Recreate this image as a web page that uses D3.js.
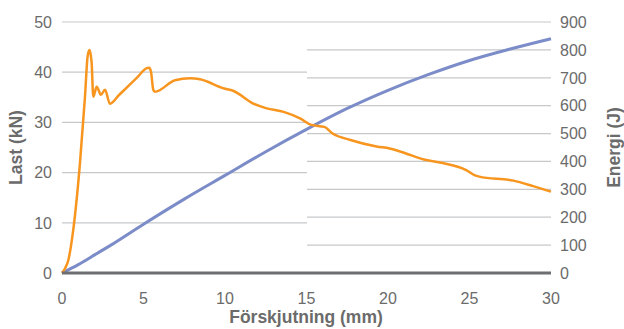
<!DOCTYPE html>
<html>
<head>
<meta charset="utf-8">
<script src="https://cdn.jsdelivr.net/npm/d3@7"></script>
<style>
  body { margin: 0; background: #fff; }
  text { font-family: "Liberation Sans", Arial, sans-serif; }
</style>
</head>
<body>
<svg id="chart" width="624" height="329"></svg>
<script>
// Last (kN) mot förskjutning (mm)
var lastX = [0, 0.2, 0.39, 0.69, 1.1, 1.41, 1.57, 1.68, 1.76, 1.82, 1.92, 2.13, 2.39, 2.64, 2.94,
  3.5, 4.0, 4.6, 5.2, 5.35, 5.46, 5.6, 5.7, 6.93, 7.85, 8.47, 9.9, 10.5, 11.7, 12.56, 13.6, 14.6, 15.3,
  16.1, 16.6, 17.7, 19.3, 20.1, 21.1, 22.2, 23.2, 24.8, 25.3, 25.6, 27.7, 28.9, 30];
var lastY = [0, 1.0, 2.6, 8.6, 21.8, 35.1, 43.1, 44.4, 43.5, 41.8, 35.1, 37.1, 35.5, 36.5, 33.7,
  35.46, 37.03, 38.9, 40.8, 40.9, 40.1, 36.5, 36.1, 38.4, 38.8, 38.6, 36.8, 36.3, 33.8, 32.8, 32.1, 30.8, 29.5,
  29.1, 27.8, 26.5, 25.2, 24.8, 23.8, 22.6, 22.0, 20.5, 19.5, 19.2, 18.4, 17.3, 16.2];

// Energi (J)
var energiX = [0, 1, 2, 3, 5, 7.5, 10, 12.5, 15, 17.5, 20, 22.5, 25, 27.5, 30];
var energiY = [0, 30, 65, 100, 175, 265, 350, 435, 515, 590, 655, 712, 762, 803, 840];

var xTicks = [0, 5, 10, 15, 20, 25, 30];
var lastTicks = [0, 10, 20, 30, 40, 50];
var energiTicks = [0, 100, 200, 300, 400, 500, 600, 700, 800, 900];

var plotLeft = 62, plotRight = 551, plotTop = 22, plotBottom = 273;
var plotMid = 307;

var svg = d3.select("#chart");

var x = d3.scaleLinear().domain([0, 30]).range([plotLeft, plotRight]);
var yL = d3.scaleLinear().domain([0, 50]).range([plotBottom, plotTop]);
var yR = d3.scaleLinear().domain([0, 900]).range([plotBottom, plotTop]);

var gridColor = "#c6c8ca";
var textColor = "#6b6b6b";

// rutnät vänster halva (Last)
svg.append("g").selectAll("line")
  .data(lastTicks.filter(function (d) { return d > 0; }))
  .enter().append("line")
  .attr("x1", plotLeft)
  .attr("x2", function (d) { return d === 50 ? plotRight : plotMid; })
  .attr("y1", function (d) { return yL(d); })
  .attr("y2", function (d) { return yL(d); })
  .attr("stroke", gridColor)
  .attr("stroke-width", 1.2);

// rutnät höger halva (Energi)
svg.append("g").selectAll("line")
  .data(energiTicks.filter(function (d) { return d > 0 && d < 900; }))
  .enter().append("line")
  .attr("x1", plotMid)
  .attr("x2", plotRight)
  .attr("y1", function (d) { return yR(d); })
  .attr("y2", function (d) { return yR(d); })
  .attr("stroke", gridColor)
  .attr("stroke-width", 1.2);

// axeltexter
svg.append("g").selectAll("text")
  .data(lastTicks)
  .enter().append("text")
  .attr("x", 52)
  .attr("y", function (d) { return yL(d); })
  .attr("dy", "0.36em")
  .attr("text-anchor", "end")
  .attr("font-size", "16px")
  .attr("fill", textColor)
  .text(function (d) { return d; });

svg.append("g").selectAll("text")
  .data(energiTicks)
  .enter().append("text")
  .attr("x", 560)
  .attr("y", function (d) { return yR(d); })
  .attr("dy", "0.36em")
  .attr("text-anchor", "start")
  .attr("font-size", "16px")
  .attr("fill", textColor)
  .text(function (d) { return d; });

svg.append("g").selectAll("text")
  .data(xTicks)
  .enter().append("text")
  .attr("x", function (d) { return x(d); })
  .attr("y", 304)
  .attr("text-anchor", "middle")
  .attr("font-size", "16px")
  .attr("fill", textColor)
  .text(function (d) { return d; });

// titlar
svg.append("text")
  .attr("x", 306)
  .attr("y", 323)
  .attr("text-anchor", "middle")
  .attr("font-size", "17.5px")
  .attr("font-weight", "bold")
  .attr("fill", textColor)
  .text("Förskjutning (mm)");

svg.append("text")
  .attr("transform", "translate(22," + (plotTop + plotBottom) / 2 + ") rotate(-90)")
  .attr("text-anchor", "middle")
  .attr("font-size", "17.5px")
  .attr("font-weight", "bold")
  .attr("fill", textColor)
  .text("Last (kN)");

svg.append("text")
  .attr("transform", "translate(620," + (plotTop + plotBottom) / 2 + ") rotate(-90)")
  .attr("text-anchor", "middle")
  .attr("font-size", "17.5px")
  .attr("font-weight", "bold")
  .attr("fill", textColor)
  .text("Energi (J)");

// kurvor
var energiLine = d3.line()
  .x(function (d, i) { return x(energiX[i]); })
  .y(function (d) { return yR(d); })
  .curve(d3.curveMonotoneX);

svg.append("path")
  .attr("d", energiLine(energiY))
  .attr("fill", "none")
  .attr("stroke", "#7b8cc8")
  .attr("stroke-width", 3);

var lastLine = d3.line()
  .x(function (d, i) { return x(lastX[i]); })
  .y(function (d) { return yL(d); })
  .curve(d3.curveMonotoneX);

svg.append("path")
  .attr("d", lastLine(lastY))
  .attr("fill", "none")
  .attr("stroke", "#f7951e")
  .attr("stroke-width", 2.5)
  .attr("stroke-linejoin", "round");

// nollinje
svg.append("line")
  .attr("x1", plotLeft)
  .attr("x2", plotRight)
  .attr("y1", yL(0))
  .attr("y2", yL(0))
  .attr("stroke", "#6d6e70")
  .attr("stroke-width", 3);
</script>
</body>
</html>
